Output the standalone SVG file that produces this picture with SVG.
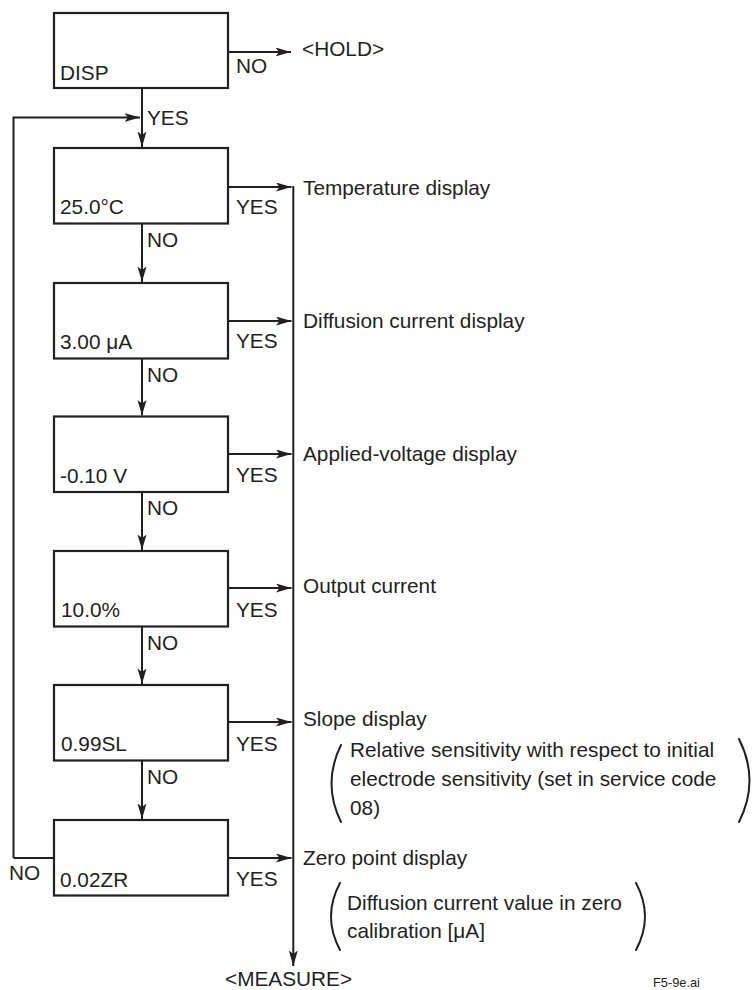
<svg xmlns="http://www.w3.org/2000/svg" width="752" height="990" viewBox="0 0 752 990">
<style>
  .box { fill: #ffffff; stroke: #231f20; stroke-width: 2.2; }
  .ln { fill: none; stroke: #231f20; stroke-width: 2; }
  .arr { fill: none; stroke: #231f20; stroke-width: 2; marker-end: url(#ah); }
  .par { fill: none; stroke: #231f20; stroke-width: 2; stroke-linecap: round; }
  text { font-family: "Liberation Sans", Arial, sans-serif; font-size: 20.8px; fill: #231f20; }
  .small { font-size: 12.8px; }
</style>
<defs>
  <marker id="ah" markerUnits="userSpaceOnUse" markerWidth="17" markerHeight="10" refX="15.5" refY="4.5" orient="auto">
    <path d="M0,0 L15.5,4.5 L0,9 L3.5,4.5 z" fill="#231f20"/>
  </marker>
</defs>

<g id="connectors">
  <path class="arr" d="M228,52 H291"/>
  <path class="arr" d="M142,88 V147"/>
  <path class="arr" d="M13.5,858 V117.5 H140"/>
  <path class="ln" d="M13.5,858 H54"/>
  <path class="arr" d="M142,223.5 V282"/>
  <path class="arr" d="M142,358.5 V415.5"/>
  <path class="arr" d="M142,492 V550"/>
  <path class="arr" d="M142,626.5 V684"/>
  <path class="arr" d="M142,760.5 V819"/>
  <path class="arr" d="M228,187 H291.5"/>
  <path class="arr" d="M228,321 H291.5"/>
  <path class="arr" d="M228,454 H291.5"/>
  <path class="arr" d="M228,588 H291.5"/>
  <path class="arr" d="M228,722 H291.5"/>
  <path class="arr" d="M228,858 H291.5"/>
  <path class="arr" d="M293.3,186 V966"/>
</g>

<g id="node-disp">
  <rect class="box" x="54" y="13" width="174" height="75"/>
  <text x="60" y="80">DISP</text>
</g>
<g id="node-temp">
  <rect class="box" x="54" y="148" width="174" height="75.5"/>
  <text x="60" y="214">25.0°C</text>
</g>
<g id="node-diff">
  <rect class="box" x="54" y="283" width="174" height="75.5"/>
  <text x="60" y="349">3.00 μA</text>
</g>
<g id="node-volt">
  <rect class="box" x="54" y="416.5" width="174" height="75.5"/>
  <text x="60" y="483">-0.10 V</text>
</g>
<g id="node-out">
  <rect class="box" x="54" y="551" width="174" height="75.5"/>
  <text x="61" y="617">10.0%</text>
</g>
<g id="node-slope">
  <rect class="box" x="54" y="685" width="174" height="75.5"/>
  <text x="61" y="751">0.99SL</text>
</g>
<g id="node-zero">
  <rect class="box" x="54" y="820" width="174" height="75.5"/>
  <text x="60" y="887">0.02ZR</text>
</g>

<g id="labels">
  <text x="236" y="73">NO</text>
  <text x="302" y="56">&lt;HOLD&gt;</text>
  <text x="147" y="125">YES</text>

  <text x="236" y="213.5">YES</text>
  <text x="236" y="348">YES</text>
  <text x="236" y="482">YES</text>
  <text x="236" y="616.5">YES</text>
  <text x="236" y="750.5">YES</text>
  <text x="236" y="886">YES</text>

  <text x="147" y="246.5">NO</text>
  <text x="147" y="381.5">NO</text>
  <text x="147" y="515">NO</text>
  <text x="147" y="650">NO</text>
  <text x="147" y="783.5">NO</text>
  <text x="9" y="880">NO</text>

  <text x="303" y="195">Temperature display</text>
  <text x="303" y="328">Diffusion current display</text>
  <text x="303" y="461">Applied-voltage display</text>
  <text x="303" y="593">Output current</text>
  <text x="303" y="726">Slope display</text>
  <text x="303" y="865">Zero point display</text>

  <text x="350" y="757">Relative sensitivity with respect to initial</text>
  <text x="350" y="786">electrode sensitivity (set in service code</text>
  <text x="350" y="815">08)</text>
  <path class="par" d="M341,745 Q322,783.5 341,822"/>
  <path class="par" d="M739,739 Q760,780.5 739,822"/>

  <text x="347" y="910">Diffusion current value in zero</text>
  <text x="347" y="938">calibration [μA]</text>
  <path class="par" d="M340,883 Q322,916.5 340,950"/>
  <path class="par" d="M636,883 Q654,916.5 636,950"/>

  <text x="225" y="986">&lt;MEASURE&gt;</text>
  <text class="small" x="653" y="987">F5-9e.ai</text>
</g>
</svg>
